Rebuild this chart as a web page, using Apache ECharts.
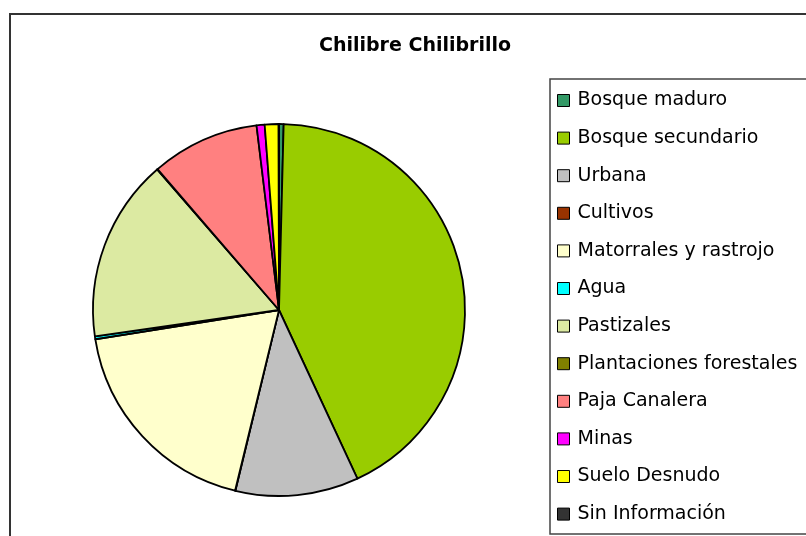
<!DOCTYPE html>
<html>
<head>
<meta charset="utf-8">
<script src="https://cdn.jsdelivr.net/npm/echarts@6/dist/echarts.min.js"></script>
<style>
html,body{margin:0;padding:0;background:#fff;}
#chart{width:806px;height:536px;}
</style>
</head>
<body>
<div id="chart"></div>
<script>
const title = "Chilibre Chilibrillo";
const categories = ["Bosque maduro","Bosque secundario","Urbana","Cultivos","Matorrales y rastrojo","Agua","Pastizales","Plantaciones forestales","Paja Canalera","Minas","Suelo Desnudo","Sin Información"];
const values = [0.4, 42.7, 10.7, 0.03, 18.7, 0.25, 15.9, 0.05, 9.4, 0.7, 1.2, 0.03];
const colors = ["#339966","#99CC00","#C0C0C0","#993300","#FFFFCC","#00FFFF","#DCEAA2","#808000","#FF8080","#FF00FF","#FFFF00","#333333"];

const chart = echarts.init(document.getElementById('chart'), null, {renderer:'canvas'});
const data = categories.map((c,i)=>({name:c, value:values[i], itemStyle:{color:colors[i]}}));
chart.setOption({
  animation:false,
  backgroundColor:'#fff',
  title:{
    text:title, left:410, top:32, textAlign:'center',
    textStyle:{fontFamily:'DejaVu Sans, Liberation Sans, sans-serif', fontSize:19, fontWeight:'bold', color:'#000'}
  },
  graphic:[
    {type:'rect', shape:{x:10,y:14,width:820,height:540}, style:{fill:'none', stroke:'#333', lineWidth:2}, z:-1},
    {type:'rect', shape:{x:550,y:79,width:300,height:455}, style:{fill:'none', stroke:'#444', lineWidth:1.5}, z:-1}
  ],
  legend:{
    orient:'vertical', left:552, top:86,
    itemWidth:12, itemHeight:12, itemGap:18.6,
    icon:'rect',
    itemStyle:{borderColor:'#000', borderWidth:1},
    textStyle:{fontFamily:'DejaVu Sans, Liberation Sans, sans-serif', fontSize:19, color:'#000', padding:[0,0,0,3]},
    data:categories
  },
  series:[{
    type:'pie',
    center:[279,310],
    radius:186,
    startAngle:90,
    clockwise:true,
    label:{show:false},
    labelLine:{show:false},
    emphasis:{disabled:true},
    avoidLabelOverlap:false,
    itemStyle:{borderColor:'#000', borderWidth:1.8},
    data:data
  }]
});
</script>
</body>
</html>
